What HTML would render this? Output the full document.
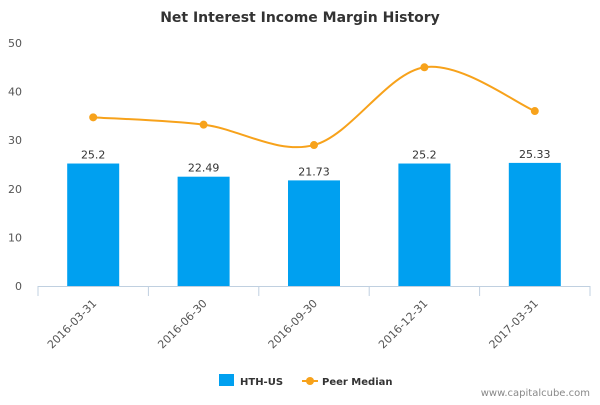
<!DOCTYPE html>
<html><head><meta charset="utf-8"><style>
body{margin:0;background:#fff;font-family:"Liberation Sans","DejaVu Sans",sans-serif}
svg text{font-family:"DejaVu Sans","Liberation Sans",sans-serif}
</style></head><body>
<svg id="c" width="600" height="400">
<text x="300" y="22" text-anchor="middle" font-size="14" font-weight="bold" fill="#333">Net Interest Income Margin History</text>
<g id="grid"></g><g id="bars"></g><g id="line"></g>
<g>
<rect x="219" y="374" width="15" height="12" fill="#00a0f0"/>
<text x="240" y="385" font-size="10" font-weight="bold" fill="#333">HTH-US</text>
<line x1="302" y1="381" x2="318" y2="381" stroke="#f7a21b" stroke-width="2"/>
<circle cx="310" cy="381" r="4" fill="#f7a21b"/>
<text x="322" y="385" font-size="10" font-weight="bold" fill="#333">Peer Median</text>
</g>
<text x="590" y="396" text-anchor="end" font-size="10" fill="#888">www.capitalcube.com</text>
</svg>
<script>
const categories=["2016-03-31","2016-06-30","2016-09-30","2016-12-31","2017-03-31"];
const hthValues=[25.2,22.49,21.73,25.2,25.33];
const hthLabels=["25.2","22.49","21.73","25.2","25.33"];
const peerValues=[34.7,33.2,29.0,45.0,36.0];
const yTicks=[0,10,20,30,40,50];
const NS="http://www.w3.org/2000/svg";
const x0=38,x1=590,y0=286,y50=43;
const bw=(x1-x0)/categories.length;
const X=i=>x0+bw*(i+0.5);
const Y=v=>y0-(v/50)*(y0-y50);
function mk(t,a,p){const e=document.createElementNS(NS,t);for(const k in a)e.setAttribute(k,a[k]);p.appendChild(e);return e;}
const g=document.getElementById('grid'),b=document.getElementById('bars'),l=document.getElementById('line');
yTicks.forEach(v=>{const t=mk('text',{x:22,y:Y(v)+4,'text-anchor':'end','font-size':11,fill:'#555'},g);t.textContent=v;

});
const ax=mk('line',{x1:x0,y1:y0+0.5,x2:x1,y2:y0+0.5,stroke:'#c0d0e0'},g);


for(let i=0;i<=categories.length;i++){mk('line',{x1:x0+bw*i,y1:y0,x2:x0+bw*i,y2:y0+10,stroke:'#c0d0e0'},g);}
categories.forEach((c,i)=>{const t=mk('text',{x:X(i)+4,y:y0+18,'text-anchor':'end','font-size':11,fill:'#555',transform:`rotate(-45 ${X(i)+4} ${y0+18})`},g);t.textContent=c;

});
hthValues.forEach((v,i)=>{const r=mk('rect',{x:X(i)-26,y:Y(v),width:52,height:y0-Y(v),fill:'#00a0f0'},b);


const t=mk('text',{x:X(i),y:Y(v)-5,'text-anchor':'middle','font-size':11,fill:'#333'},b);t.textContent=hthLabels[i];

});
const pts=peerValues.map((v,i)=>[X(i),Y(v)]);
let d=`M${pts[0][0]},${pts[0][1]}`;
for(let i=0;i<pts.length-1;i++){const p0=pts[Math.max(i-1,0)],p1=pts[i],p2=pts[i+1],p3=pts[Math.min(i+2,pts.length-1)];
const s=1/6;d+=` C${p1[0]+(p2[0]-p0[0])*s},${p1[1]+(p2[1]-p0[1])*s} ${p2[0]-(p3[0]-p1[0])*s},${p2[1]-(p3[1]-p1[1])*s} ${p2[0]},${p2[1]}`;}
const pl=mk('path',{d:d,fill:'none',stroke:'#f7a21b','stroke-width':2},l);


pts.forEach((p,i)=>{const c=mk('circle',{cx:p[0],cy:p[1],r:4,fill:'#f7a21b'},l);

});
</script>
</body></html>
